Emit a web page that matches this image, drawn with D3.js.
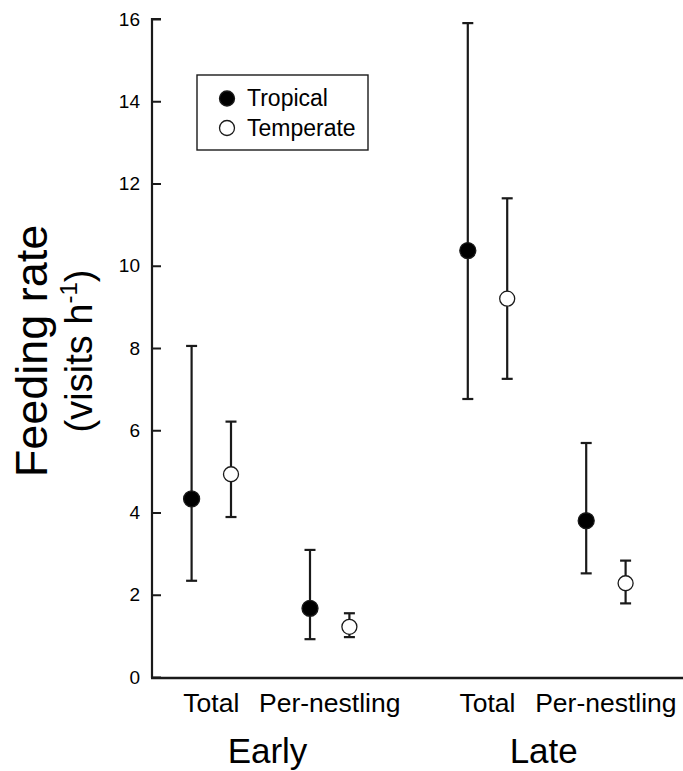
<!DOCTYPE html>
<html>
<head>
<meta charset="utf-8">
<script src="https://cdn.jsdelivr.net/npm/d3@7"></script>
<style>
  body { margin: 0; background: #fff; }
  svg { display: block; font-family: Arial, "Liberation Sans", sans-serif; }
</style>
</head>
<body>
<div id="chart"></div>
<script>
// data (order: Early Total, Early Per-nestling, Late Total, Late Per-nestling)
var periods = ["Early", "Late"];
var measures = ["Total", "Per-nestling"];
var series = ["Tropical", "Temperate"];
var yTicks = [0, 2, 4, 6, 8, 10, 12, 14, 16];

var tropicalMean = [4.33, 1.67, 10.37, 3.80];
var tropicalLow  = [2.34, 0.92, 6.76, 2.52];
var tropicalHigh = [8.05, 3.09, 15.90, 5.69];

var temperateMean = [4.93, 1.22, 9.20, 2.28];
var temperateLow  = [3.89, 0.97, 7.25, 1.79];
var temperateHigh = [6.21, 1.55, 11.64, 2.83];

var svgWidth = 683;
var svgHeight = 771;
var axisLeft = 152;
var ink = "#1a1a1a";

var svg = d3.select("#chart")
  .append("svg")
  .attr("width", svgWidth)
  .attr("height", svgHeight);

// scales
var yScale = d3.scaleLinear().domain([0, 16]).range([677, 19]);
var periodScale = d3.scalePoint().domain(periods).range([270.5, 546.7]);
var measureScale = d3.scalePoint().domain(measures).range([-59.2, 59.2]);
var seriesScale = d3.scalePoint().domain(series).range([-19.7, 19.7]);

// flatten into points
var points = [];
var means = [tropicalMean, temperateMean];
var lows = [tropicalLow, temperateLow];
var highs = [tropicalHigh, temperateHigh];
series.forEach(function(s, si) {
  periods.forEach(function(p, pi) {
    measures.forEach(function(m, mi) {
      var k = pi * measures.length + mi;
      points.push({
        series: s, period: p, measure: m,
        mean: means[si][k], low: lows[si][k], high: highs[si][k]
      });
    });
  });
});
function xPos(d) {
  return periodScale(d.period) + measureScale(d.measure) + seriesScale(d.series);
}

// y axis (ticks point inward)
var leftAxis = d3.axisRight(yScale).tickValues(yTicks).tickSize(9).tickFormat(d3.format("d"));
var yAxisG = svg.append("g")
  .attr("transform", "translate(" + axisLeft + ",0)")
  .call(leftAxis);
yAxisG.select(".domain").attr("stroke", ink).attr("stroke-width", 2.2)
  .attr("d", "M9," + yScale(16) + "H0V" + (yScale(0) + 1));
yAxisG.selectAll(".tick line").attr("stroke", ink).attr("stroke-width", 2);
yAxisG.selectAll(".tick text")
  .attr("x", -12)
  .attr("text-anchor", "end")
  .attr("fill", "#000")
  .style("font-size", "19px");

// x axis line
svg.append("line")
  .attr("x1", axisLeft - 1).attr("x2", svgWidth)
  .attr("y1", yScale(0) + 1).attr("y2", yScale(0) + 1)
  .attr("stroke", ink).attr("stroke-width", 2.4);

// category labels
periods.forEach(function(p) {
  measures.forEach(function(m) {
    svg.append("text")
      .attr("x", periodScale(p) + measureScale(m))
      .attr("y", 712)
      .attr("text-anchor", "middle")
      .style("font-size", "26.5px")
      .text(m);
  });
  svg.append("text")
    .attr("x", periodScale(p) - 3)
    .attr("y", 763)
    .attr("text-anchor", "middle")
    .style("font-size", "35px")
    .text(p);
});

// y axis title
svg.append("text")
  .attr("transform", "translate(47,351) rotate(-90)")
  .attr("text-anchor", "middle")
  .style("font-size", "45px")
  .text("Feeding rate");
var sub = svg.append("text")
  .attr("transform", "translate(92,351) rotate(-90)")
  .attr("text-anchor", "middle")
  .style("font-size", "38px");
sub.append("tspan").text("(visits h");
sub.append("tspan").attr("dy", -15).style("font-size", "24px").text("-1");
sub.append("tspan").attr("dy", 15).text(")");

// error bars
var capHalf = 5.5;
var bars = svg.append("g").selectAll("g.bar")
  .data(points)
  .enter()
  .append("g")
  .attr("stroke", ink)
  .attr("stroke-width", 2.2);
bars.append("line")
  .attr("x1", xPos).attr("x2", xPos)
  .attr("y1", function(d) { return yScale(d.low); })
  .attr("y2", function(d) { return yScale(d.high); });
bars.append("line")
  .attr("x1", function(d) { return xPos(d) - capHalf; })
  .attr("x2", function(d) { return xPos(d) + capHalf; })
  .attr("y1", function(d) { return yScale(d.high); })
  .attr("y2", function(d) { return yScale(d.high); });
bars.append("line")
  .attr("x1", function(d) { return xPos(d) - capHalf; })
  .attr("x2", function(d) { return xPos(d) + capHalf; })
  .attr("y1", function(d) { return yScale(d.low); })
  .attr("y2", function(d) { return yScale(d.low); });

// markers
svg.append("g").selectAll("circle")
  .data(points)
  .enter()
  .append("circle")
  .attr("cx", xPos)
  .attr("cy", function(d) { return yScale(d.mean); })
  .attr("r", function(d) { return d.series === "Tropical" ? 8 : 7.5; })
  .attr("fill", function(d) { return d.series === "Tropical" ? "#000" : "#fff"; })
  .attr("stroke", ink)
  .attr("stroke-width", 1.3);

// legend
var legend = svg.append("g").attr("transform", "translate(197,75)");
legend.append("rect")
  .attr("x", 0).attr("y", 0)
  .attr("width", 171).attr("height", 75)
  .attr("fill", "#fff")
  .attr("stroke", ink)
  .attr("stroke-width", 1.4);
series.forEach(function(s, i) {
  legend.append("circle")
    .attr("cx", 30).attr("cy", 23.5 + i * 29.5)
    .attr("r", 7.5)
    .attr("fill", i === 0 ? "#000" : "#fff")
    .attr("stroke", ink)
    .attr("stroke-width", 1.3);
  legend.append("text")
    .attr("x", 50).attr("y", 31 + i * 29.5)
    .style("font-size", "23px")
    .text(s);
});
</script>
</body>
</html>
